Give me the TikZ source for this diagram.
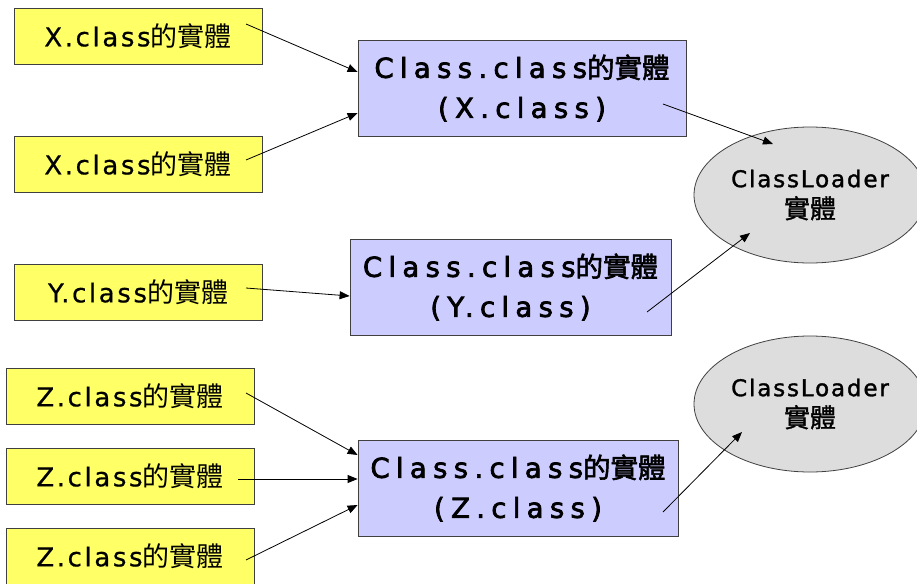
\documentclass[tikz,border=0pt]{standalone}
\usepackage{fontspec}
\setmainfont{DejaVu Sans}
\newfontfamily\cjkf{Noto Sans CJK TC}
\newfontfamily\cjkb[FakeBold=2]{Noto Sans CJK TC}
\newfontfamily\cjke[FakeBold=1.2]{Noto Sans CJK TC}
\newfontfamily\latY[LetterSpace=10,FakeBold=0.6]{DejaVu Sans}
\newfontfamily\latP[LetterSpace=23,FakeBold=2.6]{DejaVu Sans}
\newfontfamily\latE[LetterSpace=8,FakeBold=1.4]{DejaVu Sans}
\usetikzlibrary{arrows.meta,shapes.geometric}
\definecolor{boxyellow}{HTML}{FFFF66}
\definecolor{boxpurple}{HTML}{CCCCFF}
\definecolor{ellgray}{HTML}{DDDDDD}
\newcommand{\ytext}[1]{{\latY #1}{\fontsize{27}{30}\selectfont\cjkf 的實體}}
\newcommand{\ptext}[1]{{\latP Class.class}{\cjkb 的實體}\\{\latP (#1.class)}}
\newcommand{\etext}{{\latE ClassLoader}\\{\fontsize{26}{31}\selectfont\cjke 實體}}
\begin{document}
\begin{tikzpicture}[x=1pt,y=-1pt,
  ybox/.style={draw=black!75, line width=0.8pt, fill=boxyellow, minimum width=248pt, minimum height=56pt, inner sep=0pt, font=\fontsize{26}{30}\selectfont},
  pbox/.style={draw=black!75, line width=0.8pt, fill=boxpurple, minimum height=96pt, inner sep=0pt, align=center, font=\fontsize{27.5}{40}\selectfont},
  lbox/.style={ellipse, draw=black!75, line width=0.8pt, fill=ellgray, minimum width=232pt, minimum height=136pt, inner sep=0pt, align=center, font=\fontsize{23}{31}\selectfont},
  conn/.style={draw=black, line width=0.8pt, -{Triangle[length=10pt,width=8pt]}}
]
\useasboundingbox (0,0) rectangle (917,583);

% yellow boxes
\node[ybox] (x1) at (138,36) {\ytext{X.class}};
\node[ybox] (x2) at (138,164) {\ytext{X.class}};
\node[ybox] (y1) at (138,292) {\ytext{Y.class}};
\node[ybox] (z1) at (130,396) {\ytext{Z.class}};
\node[ybox] (z2) at (130,476) {\ytext{Z.class}};
\node[ybox] (z3) at (130,556) {\ytext{Z.class}};

% purple boxes
\node[pbox, minimum width=328pt] (px) at (522,88) {\ptext{X}};
\node[pbox, minimum width=321pt] (py) at (510.5,287) {\ptext{Y}};
\node[pbox, minimum width=320pt] (pz) at (518,488) {\ptext{Z}};

% ellipses
\node[lbox] (l1) at (810,195) {\etext};
\node[lbox] (l2) at (810,404) {\etext};

% connector ends
\coordinate (sx1) at (246,24);
\coordinate (sx2) at (246,160);
\coordinate (sy1) at (246,288);
\coordinate (sz1) at (246,393);
\coordinate (sz2) at (238,479);
\coordinate (sz3) at (246,560);
\coordinate (ex1) at (px.west |- 0,72);
\coordinate (ex2) at (px.west |- 0,113);
\coordinate (ey1) at (py.west |- 0,296);
\coordinate (ez1) at (pz.west |- 0,455);
\coordinate (ez2) at (pz.west |- 0,479);
\coordinate (ez3) at (pz.west |- 0,505);
\coordinate (spx) at (663,104);
\coordinate (spy) at (647,312);
\coordinate (spz) at (663,512);
\coordinate (el1a) at (773,144);
\coordinate (el1b) at (750,233);
\coordinate (el2) at (742,432);

\draw[conn] (sx1) -- (ex1);
\draw[conn] (sx2) -- (ex2);
\draw[conn] (sy1) -- (ey1);
\draw[conn] (sz1) -- (ez1);
\draw[conn] (sz2) -- (ez2);
\draw[conn] (sz3) -- (ez3);
\draw[conn] (spx) -- (el1a);
\draw[conn] (spy) -- (el1b);
\draw[conn] (spz) -- (el2);
\end{tikzpicture}
\end{document}
